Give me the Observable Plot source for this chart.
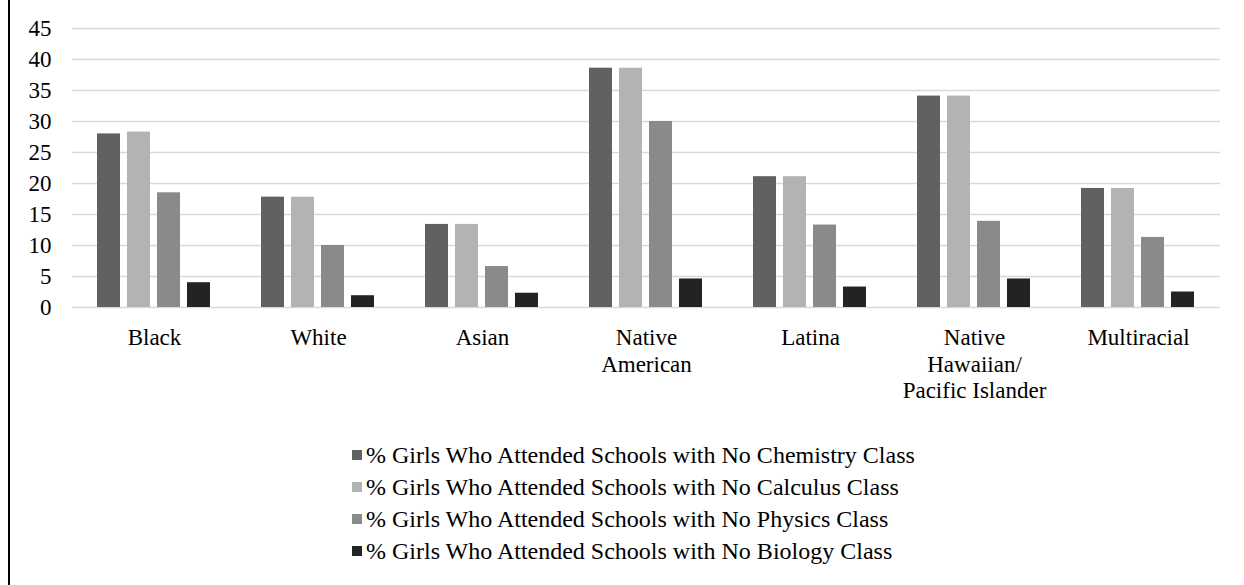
<!DOCTYPE html>
<html>
<head>
<meta charset="utf-8">
<script src="https://cdn.jsdelivr.net/npm/d3@7"></script>
<script src="https://cdn.jsdelivr.net/npm/@observablehq/plot@0.6"></script>
<style>
  html, body { margin: 0; padding: 0; background: #fff; }
  #wrap { position: relative; width: 1244px; height: 585px; overflow: hidden; font-family: "Liberation Serif", "Times New Roman", Times, serif; color: #000; }
  #border { position: absolute; left: 8px; top: 0; width: 2px; height: 585px; background: #000; }
  #legend { position: absolute; left: 352px; top: 439px; font-size: 24px; font-family: "Liberation Serif", "Times New Roman", Times, serif; }
  .row { height: 32px; display: flex; align-items: center; white-space: nowrap; }
  .sw { width: 10px; height: 10px; margin-right: 4px; flex: none; }
</style>
</head>
<body>
<div id="wrap"><div id="border"></div><div id="chart"></div><div id="legend"></div></div>
<script>
const categories = ["Black", "White", "Asian", "Native\nAmerican", "Latina", "Native\nHawaiian/\nPacific Islander", "Multiracial"];
const seriesNames = [
  "% Girls Who Attended Schools with No Chemistry Class",
  "% Girls Who Attended Schools with No Calculus Class",
  "% Girls Who Attended Schools with No Physics Class",
  "% Girls Who Attended Schools with No Biology Class"
];
const chemistry = [28.0, 17.8, 13.4, 38.6, 21.1, 34.1, 19.2];
const calculus  = [28.3, 17.8, 13.4, 38.6, 21.1, 34.1, 19.2];
const physics   = [18.5, 10.0, 6.6, 30.0, 13.3, 13.9, 11.3];
const biology   = [4.0, 1.9, 2.3, 4.6, 3.3, 4.6, 2.5];
const yTicks = [0, 5, 10, 15, 20, 25, 30, 35, 40, 45];
const colors = ["#616161", "#b3b3b3", "#8a8a8a", "#232323"];

const valueSets = [chemistry, calculus, physics, biology];
const data = [];
categories.forEach((c, i) => {
  seriesNames.forEach((s, j) => data.push({cat: c, series: s, value: valueSets[j][i]}));
});

const chart = Plot.plot({
  width: 1244,
  height: 420,
  marginLeft: 71,
  marginRight: 24,
  marginTop: 28,
  marginBottom: 113,
  style: {fontFamily: "'Liberation Serif', 'Times New Roman', serif", fontSize: "23px", color: "#000", background: "transparent"},
  fx: {domain: categories, padding: 0, label: null},
  x: {domain: seriesNames, paddingInner: 0.22, paddingOuter: 0.84, axis: null},
  y: {domain: [0, 45], label: null},
  color: {domain: seriesNames, range: colors},
  marks: [
    Plot.gridY(yTicks, {stroke: "#d9d9d9", strokeOpacity: 1, strokeWidth: 1.5}),
    Plot.axisY(yTicks, {tickSize: 0, tickPadding: 21, label: null, fill: "#000"}),
    Plot.axisFx({anchor: "bottom", tickSize: 0, tickPadding: 18, lineHeight: 1.17, label: null, fill: "#000"}),
    Plot.barY(data, {fx: "cat", x: "series", y: "value", fill: "series"})
  ]
});
document.getElementById("chart").appendChild(chart);

const legend = document.getElementById("legend");
seriesNames.forEach((s, j) => {
  const row = document.createElement("div");
  row.className = "row";
  const sw = document.createElement("span");
  sw.className = "sw";
  sw.style.background = colors[j];
  const t = document.createElement("span");
  t.textContent = s;
  row.appendChild(sw);
  row.appendChild(t);
  legend.appendChild(row);
});
</script>
</body>
</html>
